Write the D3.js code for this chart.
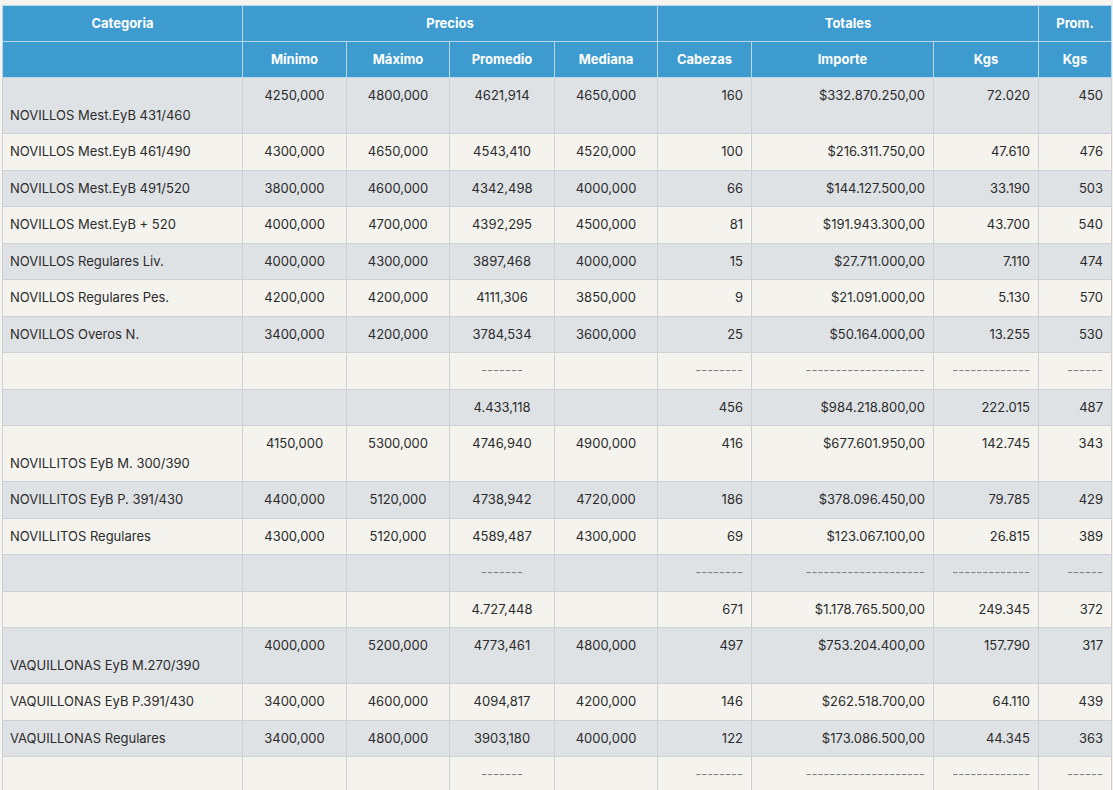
<!DOCTYPE html>
<html>
<head>
<meta charset="utf-8">
<script src="https://cdn.jsdelivr.net/npm/d3@7"></script>
<style>
  html, body { margin: 0; padding: 0; background: #f4f3ee; }
  body { padding: 5px 0 0 2px; font-family: "Inter", "Roboto", sans-serif; font-size: 13px; color: #2b2b2b; }
  table { border-collapse: collapse; table-layout: fixed; width: 1109px; }
  th, td { padding: 8px 8px; line-height: 19.5px; white-space: nowrap; overflow: hidden; }
  th { background: #3d9bd0; color: #fff; font-weight: 700; text-align: center; border: 1px solid #b9d8ec;
       padding-top: 7.75px; padding-bottom: 7.75px; }
  td { border: 1px solid #cdd0d4; vertical-align: top; }
  td:first-child { padding-left: 7px; }
  tr.par td { background: #dfe2e5; }
  tr.impar td { background: #f4f3ee; }
  td.centro { text-align: center; }
  td.der { text-align: right; }
  td.guion { color: #808080; }
</style>
</head>
<body>
<div id="tabla"></div>
<script>
'use strict';

// Encabezados
const grupos = [
  {name: 'Categoria', span: 1},
  {name: 'Precios', span: 4},
  {name: 'Totales', span: 3},
  {name: 'Prom.', span: 1}
];
const columnas = ['', 'Mínimo', 'Máximo', 'Promedio', 'Mediana', 'Cabezas', 'Importe', 'Kgs', 'Kgs'];
const anchos = [240, 104, 103, 105, 103, 94, 182, 105, 73];

// Datos por fila
const tipoFila = ['inicio', '', '', '', '', '', '', 'guion', 'total',
                  'inicio', '', '', 'guion', 'total',
                  'inicio', '', '', 'guion'];
const categorias = [
  'NOVILLOS Mest.EyB 431/460', 'NOVILLOS Mest.EyB 461/490', 'NOVILLOS Mest.EyB 491/520',
  'NOVILLOS Mest.EyB + 520', 'NOVILLOS Regulares Liv.', 'NOVILLOS Regulares Pes.',
  'NOVILLOS Overos N.', '', '',
  'NOVILLITOS EyB M. 300/390', 'NOVILLITOS EyB P. 391/430', 'NOVILLITOS Regulares', '', '',
  'VAQUILLONAS EyB M.270/390', 'VAQUILLONAS EyB P.391/430', 'VAQUILLONAS Regulares', ''
];
const minimo   = [4250, 4300, 3800, 4000, 4000, 4200, 3400, null, null, 4150, 4400, 4300, null, null, 4000, 3400, 3400, null];
const maximo   = [4800, 4650, 4600, 4700, 4300, 4200, 4200, null, null, 5300, 5120, 5120, null, null, 5200, 4600, 4800, null];
const promedio = [4621.914, 4543.410, 4342.498, 4392.295, 3897.468, 4111.306, 3784.534, null, 4433.118,
                  4746.940, 4738.942, 4589.487, null, 4727.448, 4773.461, 4094.817, 3903.180, null];
const mediana  = [4650, 4520, 4000, 4500, 4000, 3850, 3600, null, null, 4900, 4720, 4300, null, null, 4800, 4200, 4000, null];
const cabezas  = [160, 100, 66, 81, 15, 9, 25, null, 456, 416, 186, 69, null, 671, 497, 146, 122, null];
const importe  = [332870250, 216311750, 144127500, 191943300, 27711000, 21091000, 50164000, null, 984218800,
                  677601950, 378096450, 123067100, null, 1178765500, 753204400, 262518700, 173086500, null];
const kgs      = [72020, 47610, 33190, 43700, 7110, 5130, 13255, null, 222015, 142745, 79785, 26815, null,
                  249345, 157790, 64110, 44345, null];
const promKgs  = [450, 476, 503, 540, 474, 570, 530, null, 487, 343, 429, 389, null, 372, 317, 439, 363, null];

// guiones de las filas separadoras
const guiones = ['', '', '', '-------', '', '--------', '--------------------', '-------------', '------'];

// formato con coma decimal y punto de miles
const es = d3.formatLocale({decimal: ',', thousands: '.', grouping: [3], currency: ['$', '']});
const fPrecio = es.format('.3f');
const fPrecioMiles = es.format(',.3f');
const fImporte = es.format('$,.2f');
const fMiles = es.format(',d');
const fEntero = es.format('d');

const alineacion = ['', 'centro', 'centro', 'centro', 'centro', 'der', 'der', 'der', 'der'];

function celdas(i) {
  if (tipoFila[i] === 'guion') {
    return guiones.map(function (g) { return {text: g, guion: true}; });
  }
  const fProm = tipoFila[i] === 'total' ? fPrecioMiles : fPrecio;
  const vals = [
    categorias[i],
    minimo[i] == null ? '' : fPrecio(minimo[i]),
    maximo[i] == null ? '' : fPrecio(maximo[i]),
    promedio[i] == null ? '' : fProm(promedio[i]),
    mediana[i] == null ? '' : fPrecio(mediana[i]),
    cabezas[i] == null ? '' : fEntero(cabezas[i]),
    importe[i] == null ? '' : fImporte(importe[i]),
    kgs[i] == null ? '' : fMiles(kgs[i]),
    promKgs[i] == null ? '' : fEntero(promKgs[i])
  ];
  return vals.map(function (v) { return {text: v, guion: false}; });
}

const table = d3.select('#tabla').append('table');

table.append('colgroup').selectAll('col')
    .data(anchos)
    .enter().append('col')
    .style('width', function (d) { return d + 'px'; });

const thead = table.append('thead');
thead.append('tr').selectAll('th')
    .data(grupos)
    .enter().append('th')
    .attr('colspan', function (d) { return d.span; })
    .text(function (d) { return d.name; });
thead.append('tr').selectAll('th')
    .data(columnas)
    .enter().append('th')
    .text(function (d) { return d; });

const filas = table.append('tbody').selectAll('tr')
    .data(d3.range(categorias.length))
    .enter().append('tr')
    .attr('class', function (i) { return i % 2 === 0 ? 'par' : 'impar'; });

filas.selectAll('td')
    .data(function (i) { return celdas(i).map(function (c, j) { return {c: c, j: j, fila: i}; }); })
    .enter().append('td')
    .attr('class', function (d) { return alineacion[d.j] + (d.c.guion ? ' guion' : ''); })
    .html(function (d) {
      // la primera fila de cada grupo lleva el nombre en una segunda línea
      if (d.j === 0 && tipoFila[d.fila] === 'inicio') return '&nbsp;<br>' + d.c.text;
      return d.c.text;
    });
</script>
</body>
</html>
